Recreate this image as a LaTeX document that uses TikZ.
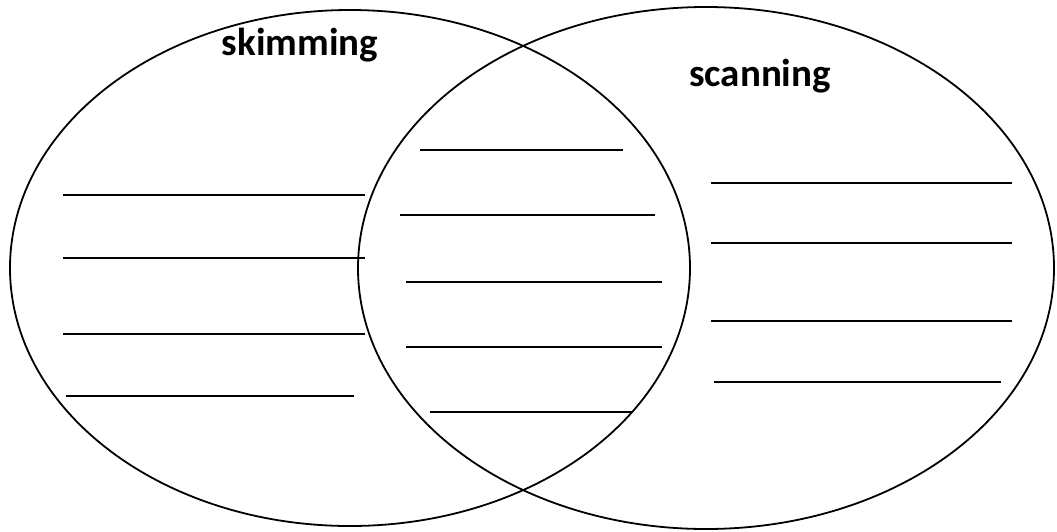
\documentclass[tikz,border=0pt]{standalone}
\usepackage{fontspec}
\setmainfont{Carlito}
\usetikzlibrary{shapes.geometric}
\tikzset{
  venn/.style={draw=black, line width=1.8pt, ellipse, inner sep=0pt},
  blank/.style={draw=black, line width=2.4pt},
  label/.style={font=\bfseries\fontsize{39}{44}\selectfont, inner sep=0pt}
}
\begin{document}
\begin{tikzpicture}[x=1pt,y=-1pt]
\useasboundingbox (0,0) rectangle (1057,531);
\node[venn, minimum width=680pt, minimum height=516pt] (L) at (350,268) {};
\node[venn, minimum width=696pt, minimum height=522pt] (R) at (706,268) {};
\node[label] (skim) at (300,45) {skimming};
\node[label] (scan) at (760,76) {scanning};
% left blanks
\coordinate (l1a) at (63,195); \coordinate (l1b) at (365,195);
\coordinate (l2a) at (63,258); \coordinate (l2b) at (365,258);
\coordinate (l3a) at (63,334); \coordinate (l3b) at (365,334);
\coordinate (l4a) at (66,396); \coordinate (l4b) at (354,396);
\draw[blank] (l1a) -- (l1b);
\draw[blank] (l2a) -- (l2b);
\draw[blank] (l3a) -- (l3b);
\draw[blank] (l4a) -- (l4b);
% middle blanks
\coordinate (m1a) at (420,150); \coordinate (m1b) at (623,150);
\coordinate (m2a) at (400,215); \coordinate (m2b) at (655,215);
\coordinate (m3a) at (406,282); \coordinate (m3b) at (662,282);
\coordinate (m4a) at (406,347); \coordinate (m4b) at (662,347);
\coordinate (m5a) at (430,412); \coordinate (m5b) at (633,412);
\draw[blank] (m1a) -- (m1b);
\draw[blank] (m2a) -- (m2b);
\draw[blank] (m3a) -- (m3b);
\draw[blank] (m4a) -- (m4b);
\draw[blank] (m5a) -- (m5b);
% right blanks
\coordinate (r1a) at (711,183); \coordinate (r1b) at (1012,183);
\coordinate (r2a) at (711,243); \coordinate (r2b) at (1012,243);
\coordinate (r3a) at (711,321); \coordinate (r3b) at (1012,321);
\coordinate (r4a) at (714,382); \coordinate (r4b) at (1001,382);
\draw[blank] (r1a) -- (r1b);
\draw[blank] (r2a) -- (r2b);
\draw[blank] (r3a) -- (r3b);
\draw[blank] (r4a) -- (r4b);
\end{tikzpicture}
\end{document}
